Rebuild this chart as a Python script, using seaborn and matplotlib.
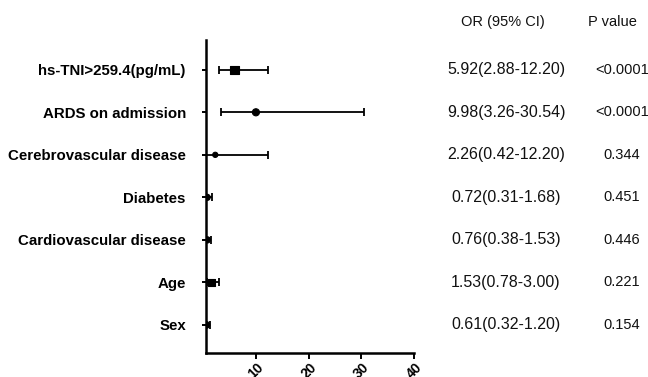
import matplotlib
matplotlib.use("Agg")
import matplotlib.pyplot as plt
import matplotlib.transforms as mtransforms
import seaborn as sns
import pandas as pd

# Odds ratios with 95% confidence intervals (multivariable model)
variables = ["hs-TNI>259.4(pg/mL)", "ARDS on admission", "Cerebrovascular disease",
             "Diabetes", "Cardiovascular disease", "Age", "Sex"]
odds_ratio = [5.92, 9.98, 2.26, 0.72, 0.76, 1.53, 0.61]
ci_low = [2.88, 3.26, 0.42, 0.31, 0.38, 0.78, 0.32]
ci_high = [12.20, 30.54, 12.20, 1.68, 1.53, 3.00, 1.20]
or_text = ["5.92(2.88-12.20)", "9.98(3.26-30.54)", "2.26(0.42-12.20)",
           "0.72(0.31-1.68)", "0.76(0.38-1.53)", "1.53(0.78-3.00)", "0.61(0.32-1.20)"]
p_text = ["<0.0001", "<0.0001", "0.344", "0.451", "0.446", "0.221", "0.154"]
x_ticks = [10, 20, 30, 40]

sns.set_theme(style="ticks")
plt.rcParams["font.family"] = ["Liberation Sans", "DejaVu Sans"]

df = pd.DataFrame({"variable": variables, "OR": odds_ratio,
                   "low": ci_low, "high": ci_high})
df["row"] = list(range(len(variables), 0, -1))
df["marker"] = ["s", "o", "o", "o", "o", "s", "o"]
df["size"] = [36, 26, 14, 20, 20, 26, 22]

fig = plt.figure(figsize=(6.48, 3.77), dpi=100)
ax = fig.add_axes([206 / 648, 1 - 353 / 377, 208 / 648, 313 / 377])

# confidence interval whiskers
ax.errorbar(df["OR"], df["row"],
            xerr=[df["OR"] - df["low"], df["high"] - df["OR"]],
            fmt="none", ecolor="black", elinewidth=1.3, capsize=3,
            capthick=1.3, zorder=2)

# point estimates
for mk, sub in df.groupby("marker"):
    sns.scatterplot(data=sub, x="OR", y="row", size="size",
                    sizes=(sub["size"].min(), sub["size"].max()),
                    size_norm=(sub["size"].min(), sub["size"].max()),
                    marker=mk, color="black", edgecolor="black", linewidth=0.8,
                    legend=False, ax=ax, zorder=3)

ax.set_xlim(0.5, 40)
ax.set_ylim(0.34, 7.7)
ax.set_xticks(x_ticks)
ax.set_xticklabels([str(t) for t in x_ticks], rotation=45, ha="center",
                   fontsize=10, fontweight="bold")
ax.set_yticks(df["row"])
ax.set_yticklabels(variables, fontsize=10.8, fontweight="bold")
ax.set_xlabel("")
ax.set_ylabel("")
for side in ["top", "right"]:
    ax.spines[side].set_visible(False)
for side in ["left", "bottom"]:
    ax.spines[side].set_linewidth(1.8)
    ax.spines[side].set_color("black")
ax.tick_params(axis="y", length=3, width=1.4, pad=11.5, colors="black")
ax.tick_params(axis="x", length=4, width=1.4, pad=1, colors="black")

# OR and P value columns
trans = mtransforms.blended_transform_factory(fig.transFigure, ax.transData)
or_x = 506 / 648
p_x = 622 / 648
fig.text(503 / 648, 1 - 22 / 377, "OR (95% CI)", ha="center", va="center",
         fontsize=10.5, color="#111111")
fig.text(612 / 648, 1 - 22 / 377, "P value", ha="center", va="center",
         fontsize=10.5, color="#111111")
for r, o, p in zip(df["row"], or_text, p_text):
    ax.text(or_x, r, o, transform=trans, ha="center", va="center",
            fontsize=11.5, color="#111111")
    ax.text(p_x, r, p, transform=trans, ha="center", va="center",
            fontsize=10.5, color="#111111")

fig.savefig("out.png", dpi=100)
